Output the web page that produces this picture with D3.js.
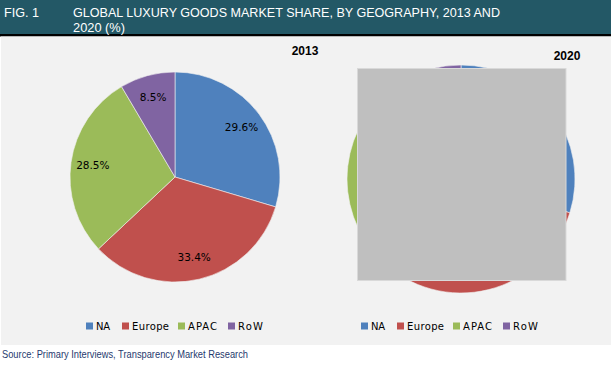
<!DOCTYPE html>
<html><head><meta charset="utf-8">
<script src="https://cdn.jsdelivr.net/npm/d3@7"></script>
<style>body{margin:0;background:#fff}svg{display:block}</style>
</head><body>
<script>
const categories = ["NA", "Europe", "APAC", "RoW"];
const values2013 = [29.6, 33.4, 28.5, 8.5];
const values2020 = [29.8, 32.6, 28.8, 8.8];
const colors = ["#4f81bd", "#c0504d", "#9bbb59", "#8064a2"];
const years = ["2013", "2020"];

const W = 611, H = 365;
const svg = d3.select("body").append("svg").attr("width", W).attr("height", H);
const narrow = "'Liberation Sans', Arial, sans-serif";

// header
svg.append("rect").attr("x", 0).attr("y", 0).attr("width", W).attr("height", 34).attr("fill", "#235866");
svg.append("rect").attr("x", 0).attr("y", 34).attr("width", W).attr("height", 2.5).attr("fill", "#000");
svg.append("text").attr("x", 4).attr("y", 16.5).attr("fill", "#fff").attr("font-family", narrow).attr("font-size", 13.5)
  .attr("textLength", 35).attr("lengthAdjust", "spacingAndGlyphs").text("FIG. 1");
svg.append("text").attr("x", 73).attr("y", 16.5).attr("fill", "#fff").attr("font-family", narrow).attr("font-size", 13.5)
  .attr("textLength", 427).attr("lengthAdjust", "spacingAndGlyphs")
  .text("GLOBAL LUXURY GOODS MARKET SHARE, BY GEOGRAPHY, 2013 AND");
svg.append("text").attr("x", 73).attr("y", 32).attr("fill", "#fff").attr("font-family", narrow).attr("font-size", 13.5)
  .attr("textLength", 52).attr("lengthAdjust", "spacingAndGlyphs").text("2020 (%)");

// plot background
svg.append("rect").attr("x", 1).attr("y", 36.5).attr("width", W - 1).attr("height", 308.5).attr("fill", "#f2f2f2");

const charts = [
  {vals: values2013, cx: 175, cy: 177, r: 105, lr: 83, title: years[0], tx: 305, ty: 55, legX: 86, showLabels: true},
  {vals: values2020, cx: 461, cy: 179, r: 114, lr: 90, title: years[1], tx: 567, ty: 60, legX: 361, showLabels: false}
];

const pie = d3.pie().sort(null).value(d => d);
const legOff = [0, 36, 92, 142];
const legW = [14, 37, 29, 25];

charts.forEach(c => {
  const g = svg.append("g").attr("transform", `translate(${c.cx},${c.cy})`);
  const arc = d3.arc().innerRadius(0).outerRadius(c.r);
  const larc = d3.arc().innerRadius(c.lr).outerRadius(c.lr);
  const arcs = pie(c.vals);
  g.selectAll("path").data(arcs).join("path")
    .attr("d", arc).attr("fill", (d, i) => colors[i])
    .attr("stroke", "#f2f2f2").attr("stroke-width", 0.6);
  if (c.showLabels) {
    g.selectAll("text").data(arcs).join("text")
      .attr("transform", d => `translate(${larc.centroid(d)})`)
      .attr("text-anchor", "middle").attr("dy", "0.35em")
      .attr("font-family", "'DejaVu Sans', Verdana, sans-serif").attr("font-size", 10.5)
      .attr("fill", "#000")
      .text(d => d3.format(".1f")(d.data) + "%");
  }
  svg.append("text").attr("x", c.tx).attr("y", c.ty).attr("text-anchor", "middle")
    .attr("font-family", "'Liberation Sans', Arial, sans-serif").attr("font-weight", "bold")
    .attr("font-size", 12).attr("fill", "#000").text(c.title);
  const lg = svg.append("g").attr("transform", `translate(${c.legX},326)`);
  categories.forEach((cat, i) => {
    lg.append("rect").attr("x", legOff[i]).attr("y", -3.5).attr("width", 7).attr("height", 7).attr("fill", colors[i]);
    lg.append("text").attr("x", legOff[i] + 10).attr("y", 0).attr("dy", "0.38em")
      .attr("font-family", "'DejaVu Sans', Verdana, sans-serif").attr("font-size", 10)
      .attr("textLength", legW[i]).attr("lengthAdjust", "spacing")
      .attr("fill", "#000").text(cat);
  });
});

// redaction box over 2020 pie
svg.append("rect").attr("x", 357.5).attr("y", 68.5).attr("width", 208.5).attr("height", 212)
  .attr("fill", "#bfbfbf").attr("stroke", "#d9d9d9").attr("stroke-width", 1);

// source
svg.append("text").attr("x", 2).attr("y", 358).attr("font-family", narrow).attr("font-size", 10.5)
  .attr("textLength", 246).attr("lengthAdjust", "spacingAndGlyphs")
  .attr("fill", "#1f3a6e").text("Source: Primary Interviews, Transparency Market Research");
</script>
</body></html>
